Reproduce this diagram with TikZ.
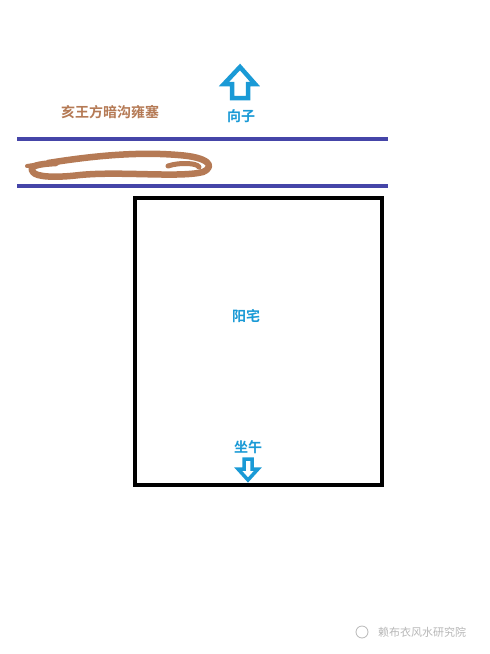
\documentclass[tikz,border=0pt]{standalone}
\usepackage{fontspec}
\newfontfamily\cjk{Noto Sans CJK SC}
\newfontfamily\cjkb{Noto Sans CJK SC Bold}
\definecolor{skyblue}{HTML}{1A9AD6}
\definecolor{roadblue}{HTML}{4545A8}
\definecolor{mud}{HTML}{B57A55}
\definecolor{wmgray}{HTML}{B8B8B8}
\begin{document}
\begin{tikzpicture}[x=1pt,y=-1pt,
  lbl/.style={font=\cjkb\fontsize{14}{16}\selectfont, text=skyblue, inner sep=0pt},
  road/.style={draw=roadblue, line width=4pt},
  arr/.style={draw=skyblue, line width=4.5pt, fill=white, line join=miter},
  house/.style={draw=black, line width=4pt}]
\useasboundingbox (0,0) rectangle (490,654);
\fill[white] (0,0) rectangle (490,654);
% north arrow
\draw[arr] (240,67) -- (255,84) -- (248,84) -- (248,98) -- (232,98) -- (232,84) -- (224,84) -- cycle;
\node[lbl] (xiangzi) at (241,116) {向子};
\node[inner sep=0pt, font=\cjkb\fontsize{14}{16}\selectfont, text=mud] (ditch) at (110,112) {亥王方暗沟雍塞};
% road lines
\coordinate (r1a) at (17,139); \coordinate (r1b) at (388,139);
\coordinate (r2a) at (17,186); \coordinate (r2b) at (388,186);
\draw[road] (r1a) -- (r1b);
\draw[road] (r2a) -- (r2b);
% blocked ditch scribble
\draw[mud, line width=6.5pt, line cap=round, line join=round]
  (48,163) .. controls (80,158) and (130,151) .. (178,155)
  .. controls (208,157) and (216,166) .. (203,172)
  .. controls (180,178) and (120,171) .. (80,175)
  .. controls (55,178) and (36,177) .. (33,172)
  .. controls (28,166) and (38,164) .. (56,163);
\draw[mud, line width=5pt, line cap=round] (168,166) .. controls (180,162) and (197,163) .. (199,167);
\draw[mud, line width=4pt, line cap=round] (27,166) -- (40,164);
% house
\draw[house] (135,198) rectangle (382,485);
\node[lbl] (yangzhai) at (246,316) {阳宅};
\node[lbl] (zuowu) at (248,447) {坐午};
% south arrow
\draw[arr, line width=3.5pt] (248,480) -- (258,469) -- (252,469) -- (252,459) -- (244,459) -- (244,469) -- (238,469) -- cycle;
% watermark
\node[inner sep=0pt, font=\cjk\fontsize{11}{13}\selectfont, text=wmgray, anchor=west] (wm) at (378,632) {赖布衣风水研究院};
\draw[wmgray, line width=0.8pt] (362,632) circle (6pt);
\end{tikzpicture}
\end{document}
